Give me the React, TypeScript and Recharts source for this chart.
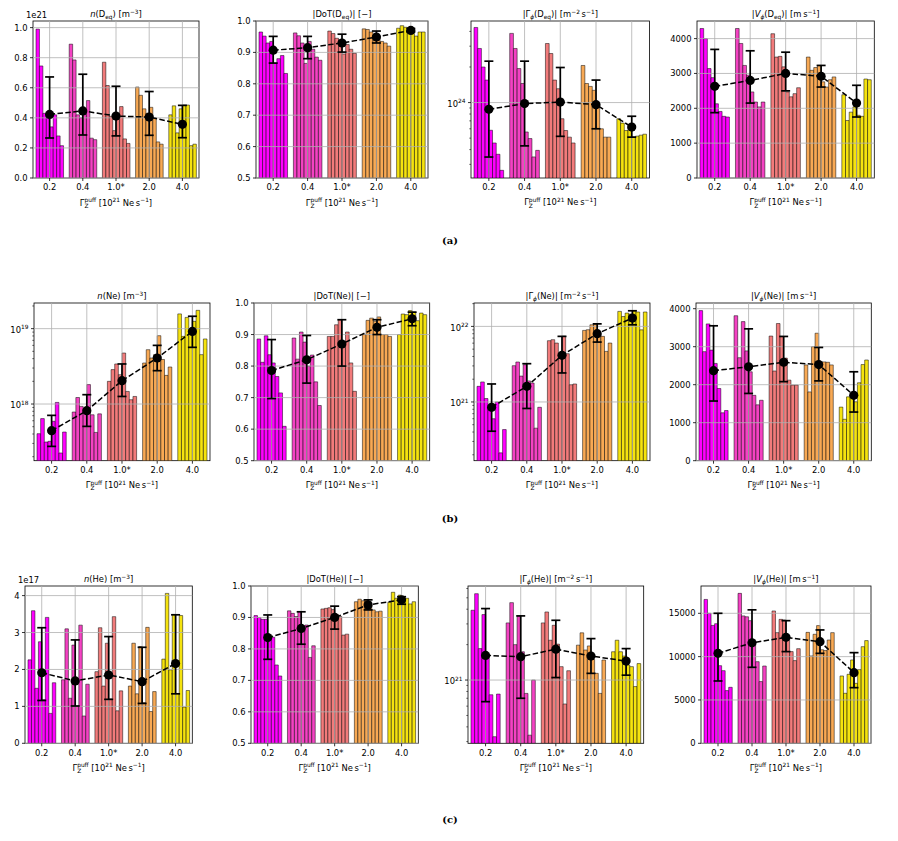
import React from 'react'
import { ComposedChart, Bar, Cell, Line, ErrorBar, XAxis, YAxis, ReferenceLine } from 'recharts'

const categories = ['0.2', '0.4', '1.0*', '2.0', '4.0']
const groupColors = ['#ff00ff', '#f442c3', '#f27b7b', '#f8a954', '#f5e30f']

// row (a): D_eq
const nDeqBars = [
  [0.99, 0.745, 0.43, 0.41, 0.34, 0.42, 0.28, 0.215],
  [0.89, 0.785, 0.42, 0.4, 0.44, 0.515, 0.265, 0.255],
  [0.77, 0.615, 0.41, 0.315, 0.4, 0.475, 0.26, 0.23],
  [0.605, 0.55, 0.46, 0.43, 0.47, 0.4, 0.24, 0.225],
  [0.42, 0.48, 0.3, 0.46, 0.485, 0.485, 0.215, 0.225],
]
const nDeqMean = [0.423, 0.446, 0.412, 0.405, 0.357]
const nDeqLow = [0.266, 0.286, 0.28, 0.284, 0.268]
const nDeqHigh = [0.672, 0.69, 0.61, 0.575, 0.483]

const dotDeqBars = [
  [0.965, 0.952, 0.93, 0.935, 0.865, 0.88, 0.89, 0.833],
  [0.962, 0.953, 0.93, 0.865, 0.935, 0.91, 0.885, 0.875],
  [0.968, 0.96, 0.945, 0.94, 0.895, 0.925, 0.91, 0.897],
  [0.975, 0.973, 0.965, 0.95, 0.945, 0.935, 0.93, 0.92],
  [0.977, 0.985, 0.98, 0.97, 0.96, 0.952, 0.965, 0.965],
]
const dotDeqMean = [0.907, 0.915, 0.93, 0.949, 0.97]
const dotDeqLow = [0.866, 0.88, 0.901, 0.93, 0.965]
const dotDeqHigh = [0.951, 0.951, 0.958, 0.968, 0.976]

const gamDeqBars = [
  [4.32e24, 2.87e24, 2.0e24, 1.55e24, 5.83e23, 4.55e23, 3.65e23, 2.67e23],
  [3.85e24, 2.87e24, 1.94e24, 1.45e24, 5.64e23, 4.96e23, 3.47e23, 3.94e23],
  [3.16e24, 2.6e24, 1.55e24, 1.31e24, 7.3e23, 5.8e23, 5.1e23, 4.55e23],
  [2.06e24, 1.45e24, 1.37e24, 1.27e24, 9.2e23, 6.0e23, 5.1e23, 5.1e23],
  [7.3e23, 6.7e23, 5.8e23, 6.2e23, 5.1e23, 5.2e23, 5.3e23, 5.4e23],
]
const gamDeqMean = [8.78e23, 9.8e23, 1.01e24, 9.6e23, 6.2e23]
const gamDeqLow = [3.46e23, 4.3e23, 5.18e23, 6.0e23, 5.1e23]
const gamDeqHigh = [2.24e24, 2.24e24, 1.98e24, 1.55e24, 7.66e23]

const vDeqBars = [
  [4290, 4000, 3140, 2880, 2130, 1910, 1770, 1750],
  [4290, 3860, 3230, 2950, 2470, 2180, 2040, 2180],
  [4140, 3470, 3490, 3190, 2470, 2330, 2420, 2590],
  [3470, 3090, 3170, 3230, 2760, 2610, 2820, 2900],
  [2390, 1650, 1890, 2040, 1800, 1770, 2840, 2820],
]
const vDeqMean = [2630, 2800, 3000, 2920, 2150]
const vDeqLow = [1875, 2150, 2500, 2610, 1750]
const vDeqHigh = [3690, 3650, 3610, 3230, 2660]

// row (b): Ne
const nNeBars = [
  [4.04e17, 6.4e17, 3.13e17, 3.2e17, 5.9e17, 1.05e18, 2.24e17, 4.25e17],
  [7.83e17, 1.22e18, 9.3e17, 8.0e17, 1.81e18, 7.2e17, 4.2e17, 7.4e17],
  [2.0e18, 2.86e18, 3.4e18, 2.45e18, 4.75e18, 1.47e18, 1.14e18, 1.26e18],
  [3.5e18, 5.26e18, 4.08e18, 4.52e18, 8.07e18, 3.9e18, 2.4e18, 3.1e18],
  [1.57e19, 7.9e18, 1.41e19, 9.2e18, 1.25e19, 1.75e19, 4.52e18, 7.3e18],
]
const nNeMean = [4.43e17, 8.16e17, 2.04e18, 4.08e18, 9.2e18]
const nNeLow = [2.74e17, 5.05e17, 1.26e18, 2.77e18, 5.65e18]
const nNeHigh = [7.07e17, 1.33e18, 3.4e18, 6.0e18, 1.46e19]

const dotNeBars = [
  [0.886, 0.812, 0.896, 0.836, 0.81, 0.767, 0.715, 0.609],
  [0.889, 0.822, 0.908, 0.876, 0.8, 0.835, 0.75, 0.675],
  [0.894, 0.894, 0.931, 0.947, 0.878, 0.908, 0.81, 0.72],
  [0.9, 0.945, 0.952, 0.942, 0.956, 0.9, 0.9, 0.894],
  [0.9, 0.965, 0.963, 0.976, 0.971, 0.944, 0.968, 0.963],
]
const dotNeMean = [0.786, 0.82, 0.87, 0.923, 0.95]
const dotNeLow = [0.697, 0.746, 0.8, 0.9, 0.928]
const dotNeHigh = [0.884, 0.897, 0.947, 0.947, 0.971]

const gamNeBars = [
  [1.61e21, 1.84e21, 1.11e21, 8.5e20, 6.0e20, 1.0e21, 2.12e20, 4.31e20],
  [3.02e21, 3.38e21, 2.2e21, 3.11e21, 1.9e21, 1.78e21, 4.5e20, 8.5e20],
  [6.47e21, 6.67e21, 6.02e21, 3.81e21, 7.4e21, 4.35e21, 1.69e21, 1.73e21],
  [8.85e21, 9.04e21, 1.05e22, 1.07e22, 7.76e21, 7.38e21, 4.67e21, 6.02e21],
  [1.58e22, 1.35e22, 1.5e22, 1.45e22, 1.6e22, 1.55e22, 9.0e21, 1.55e22],
]
const gamNeMean = [8.5e20, 1.61e21, 4.14e21, 8.0e21, 1.29e22]
const gamNeLow = [4.1e20, 8.2e20, 2.42e21, 6.2e21, 1.05e22]
const gamNeHigh = [1.73e21, 3.21e21, 7.38e21, 1.08e22, 1.61e22]

const vNeBars = [
  [3950, 2870, 3600, 2910, 2560, 1900, 1260, 1320],
  [3815, 2710, 3660, 2890, 2340, 1720, 1470, 1590],
  [3280, 2360, 3610, 3270, 2700, 2120, 1990, 1990],
  [2520, 1810, 3000, 3355, 2500, 2600, 2590, 2520],
  [1410, 1090, 1680, 1720, 1550, 2050, 2530, 2650],
]
const vNeMean = [2370, 2470, 2590, 2530, 1720]
const vNeLow = [1570, 1770, 2080, 2100, 1280]
const vNeHigh = [3550, 3470, 3270, 2980, 2340]

// row (c): He
const nHeBars = [
  [2.26, 3.59, 1.49, 2.75, 1.18, 3.41, 0.81, 1.64],
  [1.72, 3.1, 1.22, 2.66, 1.0, 3.2, 0.74, 1.6],
  [1.94, 3.13, 1.55, 2.71, 1.2, 3.43, 0.88, 1.42],
  [1.55, 2.71, 1.34, 2.62, 1.1, 3.14, 0.86, 1.4],
  [2.28, 4.06, 1.99, 3.49, 1.35, 3.46, 0.98, 1.43],
]
const nHeMean = [1.91, 1.69, 1.85, 1.67, 2.16]
const nHeLow = [1.16, 1.01, 1.19, 1.08, 1.34]
const nHeHigh = [3.13, 2.8, 2.89, 2.6, 3.48]

const dotHeBars = [
  [0.906, 0.9, 0.894, 0.894, 0.83, 0.837, 0.749, 0.714],
  [0.921, 0.913, 0.903, 0.919, 0.86, 0.876, 0.773, 0.81],
  [0.927, 0.929, 0.931, 0.925, 0.91, 0.903, 0.844, 0.847],
  [0.95, 0.958, 0.953, 0.956, 0.934, 0.924, 0.918, 0.92],
  [0.948, 0.98, 0.961, 0.971, 0.956, 0.961, 0.943, 0.95],
]
const dotHeMean = [0.836, 0.865, 0.9, 0.94, 0.956]
const dotHeLow = [0.767, 0.815, 0.863, 0.924, 0.942]
const dotHeHigh = [0.908, 0.918, 0.936, 0.956, 0.966]

const gamHeBars = [
  [3.92e21, 5.42e21, 1.85e21, 3.6e21, 1.6e21, 7.5e20, 3.3e20, 7.6e20],
  [3.06e21, 4.55e21, 2.0e21, 3.49e21, 1.74e21, 7.7e20, 3.4e20, 1.0e21],
  [3.06e21, 3.79e21, 2.18e21, 2.92e21, 2.02e21, 1.3e21, 6.26e20, 1.2e21],
  [1.98e21, 2.52e21, 1.8e21, 1.95e21, 1.5e21, 1.14e21, 7.7e20, 1.48e21],
  [1.74e21, 2.18e21, 1.74e21, 1.6e21, 1.34e21, 1.3e21, 8.8e20, 1.38e21],
]
const gamHeMean = [1.62e21, 1.58e21, 1.83e21, 1.6e21, 1.45e21]
const gamHeLow = [6.55e20, 7.0e20, 1.05e21, 1.14e21, 1.1e21]
const gamHeHigh = [4.05e21, 3.51e21, 3.22e21, 2.25e21, 1.85e21]

const vHeBars = [
  [16600, 15000, 13600, 13800, 8960, 8380, 6080, 6460],
  [17300, 14700, 14600, 14150, 11500, 9420, 7120, 8920],
  [15270, 12770, 14300, 14230, 12000, 10580, 9540, 10920],
  [12800, 10080, 12580, 13580, 10800, 10700, 11920, 12770],
  [7770, 5770, 7960, 9620, 6920, 8500, 11150, 11850],
]
const vHeMean = [10380, 11600, 12230, 11730, 8150]
const vHeLow = [7190, 8770, 10580, 10380, 6420]
const vHeHigh = [15000, 15400, 14150, 13080, 10460]

const FS = 8.4
const FONT = 'DejaVu Sans'
const PADL = 50
const PADT = 26
const PADR = 4
const PADB = 40
const GRID = '#b0b0b0'
const GROUP_FILL = 0.83 // share of a category band covered by its 8 bars

type Part = { t: string; sup?: boolean; sub?: boolean; it?: boolean; stack?: boolean }

let measureCtx: CanvasRenderingContext2D | null = null
function textWidth(t: string, size: number, italic = false) {
  if (!measureCtx) measureCtx = document.createElement('canvas').getContext('2d')
  if (!measureCtx) return t.length * size * 0.6
  measureCtx.font = `${italic ? 'italic ' : ''}${size}px "${FONT}"`
  return measureCtx.measureText(t).width
}

// small mathtext-like renderer: sub/superscripts placed with measured widths
function MathText({ x, y, parts, size = FS, anchor = 'middle' }: { x: number; y: number; parts: Part[]; size?: number; anchor?: string }) {
  let cursor = 0
  let prevStart = 0
  const placed = parts.map((p) => {
    const s = p.sup || p.sub ? size * 0.7 : size
    const start = p.stack ? prevStart : cursor
    const dy = p.sup ? -size * 0.42 : p.sub ? size * 0.24 : 0
    prevStart = start
    cursor = Math.max(cursor, start + textWidth(p.t, s, p.it))
    return { ...p, s, start, dy }
  })
  const x0 = anchor === 'middle' ? x - cursor / 2 : anchor === 'end' ? x - cursor : x
  return (
    <g>
      {placed.map((p, i) => (
        <text key={i} x={x0 + p.start} y={y + p.dy} fontSize={p.s} fontFamily={FONT}
          fontStyle={p.it ? 'italic' : 'normal'} fill="#000" style={{ whiteSpace: 'pre' }}>
          {p.t}
        </text>
      ))}
    </g>
  )
}

const sub = (t: string, it = false): Part => ({ t, sub: true, it })
const sup = (t: string): Part => ({ t, sup: true })

const deq: Part[] = [{ t: 'D' }, sub('eq')]
const ne: Part[] = [{ t: 'Ne' }]
const he: Part[] = [{ t: 'He' }]

const titleN = (sp: Part[]): Part[] => [{ t: 'n', it: true }, { t: '(' }, ...sp, { t: ') [m' }, sup('−3'), { t: ']' }]
const titleDot = (sp: Part[]): Part[] => [{ t: '|DoT(' }, ...sp, { t: ')| [−]' }]
const titleGam = (sp: Part[]): Part[] => [
  { t: '|Γ' }, sub('ϕ', true), { t: '(' }, ...sp, { t: ')| [m' }, sup('−2'), { t: '\u2009s' }, sup('−1'), { t: ']' },
]
const titleV = (sp: Part[]): Part[] => [
  { t: '|' }, { t: 'V', it: true }, sub('ϕ', true), { t: '(' }, ...sp, { t: ')| [m\u2009s' }, sup('−1'), { t: ']' },
]

const xLabel: Part[] = [
  { t: 'Γ' }, sup('puff'), { t: 'Z', sub: true, stack: true },
  { t: ' [10' }, sup('21'), { t: ' Ne\u2009s' }, sup('−1'), { t: ']' },
]

function logTicks(lo: number, hi: number) {
  const out: number[] = []
  for (let e = Math.floor(Math.log10(lo)); e <= Math.ceil(Math.log10(hi)); e++) {
    for (let k = 1; k < 10; k++) {
      const v = k * Math.pow(10, e)
      if (v >= lo && v <= hi) out.push(v)
    }
  }
  return out
}
const isDecade = (v: number) => Math.abs(Math.log10(v) - Math.round(Math.log10(v))) < 1e-6

const rowA = { T: 20.7, B: 177.7 }
const rowB = { T: 303.3, B: 461 }
const rowC = { T: 586, B: 743.3 }

const fix1 = (v: number) => v.toFixed(1)
const plain = (v: number) => String(v)
const dotTicks = [0.5, 0.6, 0.7, 0.8, 0.9, 1.0]

type PanelSpec = {
  L: number; R: number; T: number; B: number
  title: Part[]
  bars: number[][]; mean: number[]; low: number[]; high: number[]
  domain: [number, number]
  ticks: number[]
  log?: boolean
  fmt?: (v: number) => string
  offset?: string
}

const panels: PanelSpec[] = [
  { L: 33.3, R: 199.3, ...rowA, title: titleN(deq), bars: nDeqBars, mean: nDeqMean, low: nDeqLow, high: nDeqHigh,
    domain: [0, 1.044], ticks: [0, 0.2, 0.4, 0.6, 0.8, 1.0], fmt: fix1, offset: '1e21' },
  { L: 255.7, R: 427.7, ...rowA, title: titleDot(deq), bars: dotDeqBars, mean: dotDeqMean, low: dotDeqLow, high: dotDeqHigh,
    domain: [0.5, 1.0], ticks: dotTicks, fmt: fix1 },
  { L: 470.7, R: 649.3, ...rowA, title: titleGam(deq), bars: gamDeqBars, mean: gamDeqMean, low: gamDeqLow, high: gamDeqHigh,
    domain: [2.3e23, 4.9e24], ticks: logTicks(2.3e23, 4.9e24), log: true },
  { L: 696.7, R: 874, ...rowA, title: titleV(deq), bars: vDeqBars, mean: vDeqMean, low: vDeqLow, high: vDeqHigh,
    domain: [0, 4505], ticks: [0, 1000, 2000, 3000, 4000], fmt: plain },

  { L: 34, R: 210, ...rowB, title: titleN(ne), bars: nNeBars, mean: nNeMean, low: nNeLow, high: nNeHigh,
    domain: [1.77e17, 2.19e19], ticks: logTicks(1.77e17, 2.19e19), log: true },
  { L: 254.3, R: 430, ...rowB, title: titleDot(ne), bars: dotNeBars, mean: dotNeMean, low: dotNeLow, high: dotNeHigh,
    domain: [0.5, 1.0], ticks: dotTicks, fmt: fix1 },
  { L: 474, R: 650, ...rowB, title: titleGam(ne), bars: gamNeBars, mean: gamNeMean, low: gamNeLow, high: gamNeHigh,
    domain: [1.67e20, 2.04e22], ticks: logTicks(1.67e20, 2.04e22), log: true },
  { L: 695.7, R: 871, ...rowB, title: titleV(ne), bars: vNeBars, mean: vNeMean, low: vNeLow, high: vNeHigh,
    domain: [0, 4150], ticks: [0, 1000, 2000, 3000, 4000], fmt: plain },

  { L: 25, R: 192.3, ...rowC, title: titleN(he), bars: nHeBars, mean: nHeMean, low: nHeLow, high: nHeHigh,
    domain: [0, 4.26], ticks: [0, 1, 2, 3, 4], fmt: plain, offset: '1e17' },
  { L: 251, R: 418.3, ...rowC, title: titleDot(he), bars: dotHeBars, mean: dotHeMean, low: dotHeLow, high: dotHeHigh,
    domain: [0.5, 1.0], ticks: dotTicks, fmt: fix1 },
  { L: 468.3, R: 644, ...rowC, title: titleGam(he), bars: gamHeBars, mean: gamHeMean, low: gamHeLow, high: gamHeHigh,
    domain: [2.9e20, 6.3e21], ticks: logTicks(2.9e20, 6.3e21), log: true },
  { L: 701, R: 871, ...rowC, title: titleV(he), bars: vHeBars, mean: vHeMean, low: vHeLow, high: vHeHigh,
    domain: [0, 18150], ticks: [0, 5000, 10000, 15000], fmt: plain },
]

function XTick(props: any) {
  const { x, payload, bottom } = props
  return (
    <g>
      <line x1={x} x2={x} y1={bottom} y2={bottom + 3} stroke="#000" strokeWidth={0.8} />
      <text x={x} y={bottom + 12.4} textAnchor="middle" fontSize={FS} fontFamily={FONT} fill="#000">
        {payload.value}
      </text>
    </g>
  )
}

function YTick(props: any) {
  const { y, payload, log, fmt } = props
  const v = payload.value as number
  const major = !log || isDecade(v)
  return (
    <g>
      <line x1={PADL - (major ? 3 : 1.7)} x2={PADL} y1={y} y2={y} stroke="#000" strokeWidth={major ? 0.8 : 0.6} />
      {major && log && (
        <MathText x={PADL - 5.5} y={y + 4.2} anchor="end" parts={[{ t: '10' }, sup(String(Math.round(Math.log10(v))))]} />
      )}
      {major && !log && (
        <text x={PADL - 5.5} y={y + 3} textAnchor="end" fontSize={FS} fontFamily={FONT} fill="#000">
          {fmt(v)}
        </text>
      )}
    </g>
  )
}

function Panel({ p }: { p: PanelSpec }) {
  const pw = p.R - p.L
  const ph = p.B - p.T
  const width = pw + PADL + PADR
  const height = ph + PADT + PADB
  const bottom = PADT + ph
  const barSize = (pw / categories.length) * GROUP_FILL / p.bars[0].length
  const data = categories.map((c, i) => {
    const row: Record<string, any> = { cat: c, mean: p.mean[i], err: [p.mean[i] - p.low[i], p.high[i] - p.mean[i]] }
    p.bars[i].forEach((v, j) => (row['b' + j] = v))
    return row
  })
  const majors = p.log ? p.ticks.filter(isDecade) : p.ticks

  return (
    <div style={{ position: 'absolute', left: p.L - PADL, top: p.T - PADT, width, height }}>
      <ComposedChart width={width} height={height} data={data} barGap={0} barSize={barSize}
        margin={{ top: PADT, right: PADR, bottom: 0, left: 0 }}>
        <XAxis dataKey="cat" height={PADB} interval={0} tickLine={false} axisLine={false}
          tick={(t: any) => <XTick {...t} bottom={bottom} />} />
        <YAxis type="number" width={PADL} scale={p.log ? 'log' : 'linear'} domain={p.domain} allowDataOverflow
          ticks={p.ticks} interval={0} tickLine={false} axisLine={false}
          tick={(t: any) => <YTick {...t} log={p.log} fmt={p.fmt} />} />
        {p.bars[0].map((_, j) => (
          <Bar key={j} dataKey={'b' + j} barSize={barSize} stroke="#000" strokeWidth={0.5} isAnimationActive={false}>
            {categories.map((c, i) => <Cell key={c} fill={groupColors[i]} />)}
          </Bar>
        ))}
        {majors.map((v) => (
          <ReferenceLine key={'h' + v} y={v} stroke={GRID} strokeWidth={0.8} zIndex={350} />
        ))}
        {categories.map((c) => (
          <ReferenceLine key={'v' + c} x={c} stroke={GRID} strokeWidth={0.8} zIndex={350} />
        ))}
        <Line dataKey="mean" stroke="#000" strokeWidth={1.5} strokeDasharray="5.5 2.4" isAnimationActive={false}
          dot={{ r: 4.6, fill: '#000', stroke: '#000', strokeWidth: 0 }} activeDot={false}>
          <ErrorBar dataKey="err" direction="y" width={4.5} stroke="#000" strokeWidth={1.7} />
        </Line>
        <rect x={PADL} y={PADT} width={pw} height={ph} fill="none" stroke="#000" strokeWidth={0.8} />
        <MathText x={PADL + pw / 2} y={PADT - 3.6} parts={p.title} />
        <MathText x={PADL + pw / 2} y={bottom + 27.5} parts={xLabel} />
        {p.offset && (
          <text x={PADL - 7} y={PADT - 2.6} fontSize={FS} fontFamily={FONT} fill="#000">{p.offset}</text>
        )}
      </ComposedChart>
    </div>
  )
}

const rowTags = [
  { tag: '(a)', y: 242 },
  { tag: '(b)', y: 520 },
  { tag: '(c)', y: 821 },
]

export default function App() {
  return (
    <div style={{ position: 'absolute', left: 0, top: 0, width: 898, height: 841, background: '#fff', overflow: 'hidden' }}>
      {panels.map((p, i) => (
        <Panel key={i} p={p} />
      ))}
      {rowTags.map((r) => (
        <div key={r.tag} style={{ position: 'absolute', left: 420, width: 60, top: r.y - 7, textAlign: 'center',
          fontFamily: '"DejaVu Serif", serif', fontWeight: 'bold', fontSize: 10 }}>
          {r.tag}
        </div>
      ))}
    </div>
  )
}
